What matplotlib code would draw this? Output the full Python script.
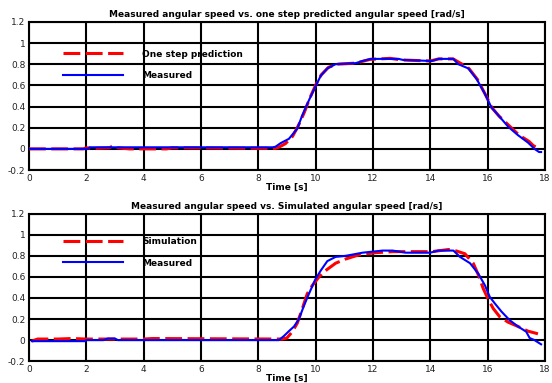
import matplotlib
matplotlib.use("Agg")
import matplotlib.pyplot as plt

# ---- data ----
t1_meas = [0, 2.05, 2.12, 8.5, 8.6, 8.78, 9.07, 9.36, 9.54, 9.77, 9.98, 10.18, 10.41, 10.7, 11.4,
           11.64, 11.93, 12.9, 13.05, 14.06, 14.29, 14.81, 14.98, 15.33, 15.62, 15.91, 16.14,
           16.37, 16.72, 17.06, 17.41, 17.64, 17.8, 17.87]
y1_meas = [0, 0, 0.015, 0.015, 0.02, 0.054, 0.095, 0.19, 0.32, 0.46, 0.58, 0.69, 0.76, 0.80, 0.81,
           0.83, 0.85, 0.85, 0.84, 0.83, 0.85, 0.85, 0.80, 0.76, 0.66, 0.52, 0.39,
           0.32, 0.21, 0.13, 0.06, 0.0, -0.03, -0.03]

t1_pred = [0, 1.9, 2.0, 2.3, 2.8, 2.95, 3.1, 3.5, 4.8, 5.0, 8.6, 8.75, 8.95, 9.2, 9.4, 9.6, 9.8,
           10.0, 10.2, 10.45, 10.75, 11.4, 11.9, 12.6, 13.0, 14.0, 14.3, 14.8, 15.05, 15.35,
           15.65, 15.95, 16.15, 16.4, 16.75, 17.1, 17.45, 17.6, 17.75]
y1_pred = [0, 0, 0.01, 0.005, 0.01, 0.03, 0.01, 0.0, 0.0, 0.01, 0.005, 0.02, 0.05, 0.12, 0.22,
           0.34, 0.48, 0.6, 0.70, 0.77, 0.80, 0.81, 0.845, 0.855, 0.84, 0.83, 0.85, 0.85, 0.81,
           0.76, 0.655, 0.50, 0.39, 0.31, 0.22, 0.13, 0.07, 0.03, 0.01]

t2_meas = [0.1, 1.95, 2.0, 2.6, 2.75, 3.0, 3.1, 8.72, 8.9, 9.07, 9.25, 9.42, 9.6, 9.77, 9.98,
           10.18, 10.41, 10.7, 11.05, 11.64, 12.34, 12.69, 12.92, 13.15, 14.0, 14.29, 14.81,
           15.04, 15.39, 15.68, 15.91, 16.08, 16.25, 16.49, 16.77, 17.06, 17.35, 17.47, 17.64, 17.87]
y2_meas = [-0.01, -0.01, 0.0, 0.0, 0.015, 0.015, 0.0, 0.0, 0.04, 0.085, 0.13, 0.20, 0.33, 0.44,
           0.57, 0.66, 0.75, 0.79, 0.80, 0.83, 0.85, 0.85, 0.84, 0.83, 0.83, 0.85, 0.85,
           0.79, 0.73, 0.63, 0.52, 0.41, 0.35, 0.27, 0.19, 0.13, 0.08, 0.02, 0.0, -0.04]

t2_sim = [0.1, 0.3, 1.0, 1.5, 2.0, 4.0, 4.3, 8.84, 9.0, 9.19, 9.36, 9.54, 9.71, 9.89, 10.12,
          10.35, 10.7, 11.05, 11.52, 12.1, 12.69, 14.06, 14.64, 14.87, 15.21, 15.5, 15.68,
          15.85, 16.02, 16.2, 16.43, 16.72, 17.06, 17.41, 17.76]
y2_sim = [-0.01, 0.01, 0.01, 0.015, 0.01, 0.01, 0.015, 0.01, 0.02, 0.08, 0.16, 0.30, 0.44,
          0.52, 0.60, 0.66, 0.73, 0.77, 0.81, 0.83, 0.84, 0.84, 0.86, 0.85, 0.82, 0.73, 0.62,
          0.49, 0.39, 0.30, 0.22, 0.17, 0.13, 0.085, 0.06]

xticks = [0, 2, 4, 6, 8, 10, 12, 14, 16, 18]
yticks = [-0.2, 0, 0.2, 0.4, 0.6, 0.8, 1.0, 1.2]
yticklabels = ["-0.2", "0", "0.2", "0.4", "0.6", "0.8", "1", "1.2"]

titles = ["Measured angular speed vs. one step predicted angular speed [rad/s]",
          "Measured angular speed vs. Simulated angular speed [rad/s]"]
red_labels = ["One step prediction", "Simulation"]
xlabel = "Time [s]"

# ---- figure ----
fig = plt.figure(figsize=(5.52, 3.83), dpi=100)
ax1 = fig.add_axes([0.0525, 0.556, 0.9345, 0.387])
ax2 = fig.add_axes([0.0525, 0.057, 0.9345, 0.385])

series = [(t1_pred, y1_pred, t1_meas, y1_meas), (t2_sim, y2_sim, t2_meas, y2_meas)]
leg_y = [0.813, 0.842]

for i, ax in enumerate([ax1, ax2]):
    tr, yr, tb, yb = series[i]
    ax.plot(tr, yr, color="#ff0000", lw=2.2, ls=(0, (5.5, 1.8)), label=red_labels[i], zorder=3)
    ax.plot(tb, yb, color="#0000ff", lw=1.5, label="Measured", zorder=4)
    ax.set_xlim(0, 18)
    ax.set_ylim(-0.2, 1.2)
    ax.set_xticks(xticks)
    ax.set_xticklabels([str(x) for x in xticks])
    ax.set_yticks(yticks)
    ax.set_yticklabels(yticklabels)
    ax.grid(True, color="black", lw=1.5, zorder=1)
    ax.set_axisbelow(True)
    for s in ax.spines.values():
        s.set_linewidth(1.5)
        s.set_color("black")
    ax.tick_params(length=0, labelsize=6.5, pad=2.5, colors="#222222")
    ax.set_title(titles[i], fontsize=6.5, fontweight="bold", pad=3.5)
    ax.set_xlabel(xlabel, fontsize=6.5, fontweight="bold", labelpad=0.5)
    leg = ax.legend(loc="upper left", bbox_to_anchor=(0.066, leg_y[i]), frameon=False,
                    borderpad=0, borderaxespad=0, handlelength=6.6, handletextpad=2.2,
                    labelspacing=1.4, prop={"size": 6.5, "weight": "bold"})

fig.savefig("out.png", dpi=100)
